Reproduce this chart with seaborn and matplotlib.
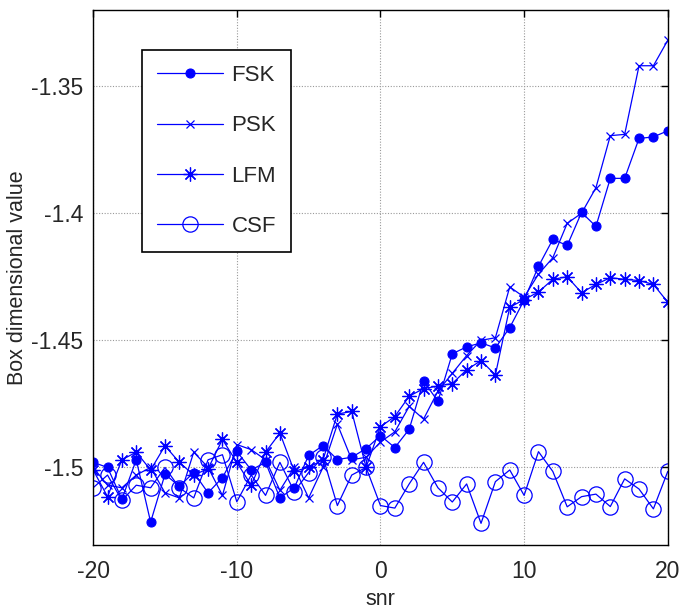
import numpy as np
import pandas as pd
import matplotlib
matplotlib.use("Agg")
import matplotlib.pyplot as plt
import seaborn as sns

snr = list(range(-20, 21))

fsk = [-1.498, -1.500, -1.5125, -1.497, -1.5215, -1.5027, -1.5074, -1.502, -1.510, -1.504,
       -1.4937, -1.501, -1.498, -1.512, -1.508, -1.4953, -1.4914, -1.4969, -1.496, -1.4926,
       -1.4875, -1.4922, -1.485, -1.466, -1.474, -1.4553, -1.4526, -1.451, -1.453, -1.445,
       -1.4342, -1.4209, -1.4103, -1.4127, -1.3997, -1.4052, -1.3863, -1.3863, -1.3706, -1.370,
       -1.3676]
psk = [-1.500, -1.507, -1.508, -1.503, -1.500, -1.510, -1.512, -1.494, -1.500, -1.511,
       -1.491, -1.493, -1.497, -1.509, -1.500, -1.512, -1.500, -1.483, -1.497, -1.496,
       -1.490, -1.486, -1.476, -1.481, -1.470, -1.463, -1.456, -1.450, -1.449, -1.429,
       -1.433, -1.424, -1.4175, -1.404, -1.400, -1.390, -1.3695, -1.369, -1.342, -1.342,
       -1.332]
lfm = [-1.501, -1.5115, -1.497, -1.494, -1.501, -1.4915, -1.498, -1.503, -1.5005, -1.489,
       -1.498, -1.507, -1.494, -1.4865, -1.5015, -1.500, -1.497, -1.479, -1.478, -1.500,
       -1.484, -1.480, -1.472, -1.469, -1.468, -1.467, -1.4616, -1.458, -1.4636, -1.437,
       -1.434, -1.431, -1.426, -1.425, -1.4313, -1.428, -1.4254, -1.426, -1.4265, -1.428,
       -1.435]
csf = [-1.508, -1.503, -1.513, -1.507, -1.508, -1.500, -1.508, -1.512, -1.497, -1.495,
       -1.5135, -1.503, -1.511, -1.498, -1.5095, -1.502, -1.496, -1.515, -1.503, -1.500,
       -1.515, -1.516, -1.5065, -1.498, -1.508, -1.5136, -1.5065, -1.522, -1.5056, -1.501,
       -1.511, -1.4938, -1.5016, -1.5155, -1.5115, -1.5105, -1.5154, -1.5045, -1.5085, -1.5163,
       -1.5016]

x_ticks = [-20, -10, 0, 10, 20]
y_ticks = [-1.5, -1.45, -1.4, -1.35]
y_tick_labels = ["-1.5", "-1.45", "-1.4", "-1.35"]

BLUE = "#0000FF"

sns.set_theme(style="white")
plt.rcParams.update({
    "font.family": ["Liberation Sans", "DejaVu Sans"],
    "xtick.direction": "in",
    "ytick.direction": "in",
    "xtick.top": True,
    "ytick.right": True,
    "axes.edgecolor": "black",
    "axes.linewidth": 1.0,
})

df = pd.DataFrame({"snr": snr, "FSK": fsk, "PSK": psk, "LFM": lfm, "CSF": csf})

fig = plt.figure(figsize=(6.8, 6.13), dpi=100)
ax = fig.add_axes([0.137, 0.111, 0.845, 0.873])

styles = {
    "FSK": dict(marker="o", markersize=6.5, markerfacecolor=BLUE, markeredgewidth=0.8),
    "PSK": dict(marker="x", markersize=6, markeredgewidth=0.9, markerfacecolor=BLUE),
    "LFM": dict(marker=(8, 2, 0), markersize=10, markeredgewidth=0.9, markerfacecolor=BLUE),
    "CSF": dict(marker="o", markersize=11, markerfacecolor="none", markeredgewidth=0.9),
}
for name, st in styles.items():
    sns.lineplot(data=df, x="snr", y=name, ax=ax, color=BLUE, linewidth=0.9,
                 markeredgecolor=BLUE, label=name, **st)

ax.set_xlim(-20, 20)
ax.set_ylim(-1.5305, -1.32)
ax.set_xticks(x_ticks)
ax.set_xticklabels([str(t) for t in x_ticks])
ax.set_yticks(y_ticks)
ax.set_yticklabels(y_tick_labels)
ax.tick_params(labelsize=16.5, length=5, width=1, color="black")
ax.tick_params(axis="x", pad=11)
ax.tick_params(axis="y", pad=7)
ax.grid(True, color="#9a9a9a", linestyle=(0, (1, 1.5)), linewidth=0.8)
for s in ax.spines.values():
    s.set_visible(True)
    s.set_color("black")

ax.set_xlabel("snr", fontsize=15.5, labelpad=4)
ax.set_ylabel("Box dimensional value", fontsize=15.5, labelpad=2)

leg = ax.legend(loc="upper left", bbox_to_anchor=(0.085, 0.925), borderaxespad=0,
                fontsize=16, frameon=True, fancybox=False, edgecolor="black",
                handlelength=2.95, handletextpad=0.4, labelspacing=1.32,
                borderpad=0.68, framealpha=1)
leg.get_frame().set_linewidth(1.2)

fig.savefig("out.png", dpi=100)
